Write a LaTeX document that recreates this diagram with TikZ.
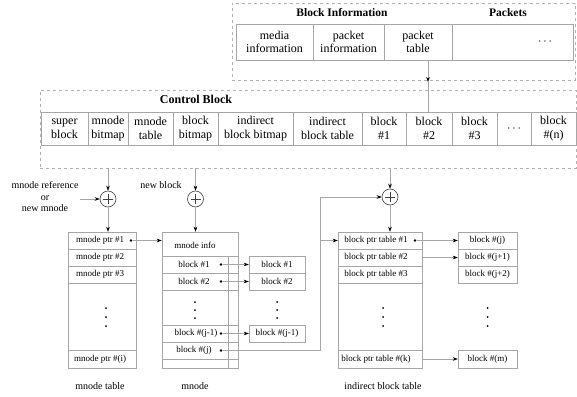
\documentclass[tikz,border=0pt]{standalone}
\usepackage{fontspec}
\setmainfont{Liberation Serif}
\usetikzlibrary{arrows.meta}
\newcommand\myfA{\fontsize{12}{13.5}\selectfont}
\newcommand\myfT{\bfseries\fontsize{11.5}{13}\selectfont}
\newcommand\myfS{\fontsize{9}{10}\selectfont}
\newcommand\myfL{\fontsize{10}{11.5}\selectfont}
\begin{document}
\begin{tikzpicture}[x=1pt,y=-1pt,
  ln/.style={draw=black!35,line width=0.5pt},
  frame/.style={draw=black!30,dashed,line width=0.5pt,inner sep=0},
  cell/.style={draw=black!35,line width=0.5pt,inner sep=0,align=center,font=\myfA},
  box/.style={draw=black!35,line width=0.5pt,inner sep=0},
  rowt/.style={inner sep=0,font=\myfS},
  lab/.style={inner sep=1pt,font=\myfL,align=center},
  ttl/.style={inner sep=0,font=\myfT},
  arr/.style={draw=black!35,line width=0.5pt,-{Stealth[length=5pt,width=3.6pt,color=black]}},
  ptr/.style={circle,fill=black,inner sep=0,minimum size=2.8pt},
  vdot/.style={circle,fill=black,inner sep=0,minimum size=2pt},
  adder/.style={circle,draw=black!75,line width=0.6pt,minimum size=16pt,inner sep=0,
     path picture={\draw[black!75,line width=0.6pt]
       ([yshift=-3pt]path picture bounding box.north) -- ([yshift=3pt]path picture bounding box.south)
       ([xshift=3pt]path picture bounding box.west) -- ([xshift=-3pt]path picture bounding box.east);}}
]
\useasboundingbox (0,0) rectangle (577,396);

% ---------- Block information ----------
\node[frame,minimum width=343pt,minimum height=77pt] (bif) at (403.5,41.5) {};
\node[ttl] (tbi) at (342,13) {Block Information};
\node[ttl] (tpk) at (508,13) {Packets};
\node[cell,minimum width=77pt,minimum height=36pt] (mi) at (274.5,42) {media\\information};
\node[cell,minimum width=71pt,minimum height=36pt] (pi) at (348.5,42) {packet\\information};
\node[cell,minimum width=68pt,minimum height=36pt] (ptb) at (418,42) {packet\\table};
\node[cell,minimum width=121pt,minimum height=36pt] (pk) at (512.5,42) {};
\node[inner sep=0,font=\myfA] (pkd) at (545,42) {$\cdots$};
\coordinate (pa) at (428,82);
\draw[arr] (ptb.south -| pa) -- (pa);

% ---------- Control block ----------
\node[frame,minimum width=536pt,minimum height=78pt] (cbf) at (308,129) {};
\node[ttl,font=\bfseries\fontsize{12}{13.5}\selectfont] (tcb) at (196,99) {Control Block};
\node[cell,minimum width=47pt,minimum height=33pt] (sb) at (64.5,128.5) {super\\block};
\node[cell,minimum width=40pt,minimum height=33pt] (mb) at (108,128.5) {mnode\\bitmap};
\node[cell,minimum width=45pt,minimum height=33pt] (mt) at (150.5,128.5) {mnode\\table};
\node[cell,minimum width=45pt,minimum height=33pt] (bb) at (195.5,128.5) {block\\bitmap};
\node[cell,minimum width=75pt,minimum height=33pt] (ibb) at (255.5,128.5) {indirect\\block bitmap};
\node[cell,minimum width=69pt,minimum height=33pt] (ibt) at (327.5,128.5) {indirect\\block table};
\node[cell,minimum width=44pt,minimum height=33pt] (b1) at (384,128.5) {block\\\#1};
\node[cell,minimum width=46pt,minimum height=33pt] (b2) at (429,128.5) {block\\\#2};
\node[cell,minimum width=45pt,minimum height=33pt] (b3) at (474.5,128.5) {block\\\#3};
\node[cell,minimum width=45pt,minimum height=33pt] (bn) at (553.5,128.5) {block\\\#(n)};
\node[inner sep=0,font=\myfA] (bdots) at (514,128.5) {$\cdots$};
\draw[ln] (b3.north east) -- (bn.north west) (b3.south east) -- (bn.south west);
\draw[ln] (pa) -- (b2.north -| pa);

% ---------- adders ----------
\node[adder] (addL) at (108,199) {};
\node[adder] (addN) at (195.5,199) {};
\node[adder] (addR) at (390,197) {};
\coordinate (tL) at (108,168);
\coordinate (tN) at (195.5,168);
\coordinate (tR) at (390,168);
\draw[arr] (tL) -- (addL.north);
\draw[arr] (tN) -- (addN.north);
\draw[arr] (tR) -- (addR.north);
\node[lab] (lblL) at (45,197) {mnode reference\\or\\new mnode};
\node[lab] (lblN) at (161,185) {new block};
\draw[arr] (lblL.east |- addL) -- (addL.west);

% ---------- mnode table ----------
\node[box,minimum width=68pt,minimum height=136pt] (mtab) at (102,300) {};
\draw[ln] (68,249) -- (136,249) (68,266) -- (136,266) (68,283) -- (136,283) (68,350) -- (136,350);
\node[rowt] (mp1) at (100,240.5) {mnode ptr \#1};
\node[rowt] (mp2) at (100,257.5) {mnode ptr \#2};
\node[rowt] (mp3) at (100,274.5) {mnode ptr \#3};
\node[rowt] (mpi) at (100,359) {mnode ptr \#(i)};
\foreach \y in {308,317,326} \node[vdot] (mtd\y) at (106,\y) {};
\node[lab] (lmt) at (100,386) {mnode table};
\draw[arr] (addL.south) -- (addL.south |- mtab.north);

% ---------- mnode ----------
\node[box,minimum width=76pt,minimum height=136pt] (mbox) at (200,300) {};
\draw[ln] (162,256) -- (238,256) (162,273) -- (238,273) (162,290) -- (238,290)
          (162,325) -- (238,325) (162,342) -- (238,342) (162,359) -- (238,359);
\draw[ln] (228,256) -- (228,368);
\node[rowt] (mn0) at (195,245) {mnode info};
\node[rowt] (mn1) at (194,264.5) {block \#1};
\node[rowt] (mn2) at (194,281.5) {block \#2};
\node[rowt] (mnj1) at (196,333.5) {block \#(j-1)};
\node[rowt] (mnj) at (194,350.5) {block \#(j)};
\foreach \y in {302,310,318} \node[vdot] (mnd\y) at (195,\y) {};
\node[lab] (lmn) at (195,386) {mnode};
\draw[arr] (addN.south) -- (addN.south |- mbox.north);
\node[ptr] (pm1) at (131,240.5) {};
\draw[arr] (pm1) -- (pm1 -| mbox.west);

% data blocks of the mnode
\node[box,minimum width=56pt,minimum height=34pt] (dA) at (277,273) {};
\draw[ln] (249,273) -- (305,273);
\node[rowt] (da1) at (277,264.5) {block \#1};
\node[rowt] (da2) at (277,281.5) {block \#2};
\foreach \y in {302,310,318} \node[vdot] (dad\y) at (277,\y) {};
\node[box,minimum width=56pt,minimum height=17pt] (dB) at (277,333.5) {};
\node[rowt] (db1) at (277,333.5) {block \#(j-1)};
\node[ptr] (q1) at (221,264.5) {};
\node[ptr] (q2) at (221,281.5) {};
\node[ptr] (q3) at (221,333.5) {};
\node[ptr] (q4) at (221,350.5) {};
\draw[arr] (q1) -- (q1 -| dA.west);
\draw[arr] (q2) -- (q2 -| dA.west);
\draw[arr] (q3) -- (q3 -| dB.west);

% ---------- indirect block table ----------
\node[box,minimum width=84pt,minimum height=136pt] (bpt) at (380,300) {};
\draw[ln] (338,249) -- (422,249) (338,266) -- (422,266) (338,283) -- (422,283) (338,350) -- (422,350);
\node[rowt] (bp1) at (376,240.5) {block ptr table \#1};
\node[rowt] (bp2) at (376,257.5) {block ptr table \#2};
\node[rowt] (bp3) at (376,274.5) {block ptr table \#3};
\node[rowt] (bpk) at (376,359) {block ptr table \#(k)};
\foreach \y in {308,317,326} \node[vdot] (bpd\y) at (383,\y) {};
\node[lab] (lib) at (383,386) {indirect block table};
\draw[arr] (addR.south) -- (addR.south |- bpt.north);

\coordinate (jn) at (320,350.5);
\coordinate (jt) at (320,197);
\draw[ln] (q4) -- (jn) -- (jt);
\draw[arr] (jt) -- (addR.west);
\draw[arr] (bp1 -| jn) -- (bp1 -| bpt.west);

% data blocks of the indirect table
\node[box,minimum width=59pt,minimum height=51pt] (dC) at (487.5,257.5) {};
\draw[ln] (458,249) -- (517,249) (458,266) -- (517,266);
\node[rowt] (dc1) at (487.5,240.5) {block \#(j)};
\node[rowt] (dc2) at (487.5,257.5) {block \#(j+1)};
\node[rowt] (dc3) at (487.5,274.5) {block \#(j+2)};
\foreach \y in {308,317,326} \node[vdot] (dcd\y) at (487.5,\y) {};
\node[box,minimum width=59pt,minimum height=18pt] (dD) at (487.5,359) {};
\node[rowt] (dd1) at (487.5,359) {block \#(m)};
\node[ptr] (r1) at (415,240.5) {};
\draw[arr] (r1) -- (r1 -| dC.west);
\draw[arr] (bp2 -| bpt.east) -- (bp2 -| dC.west);
\draw[arr] (bpk -| bpt.east) -- (bpk -| dD.west);
\end{tikzpicture}
\end{document}
